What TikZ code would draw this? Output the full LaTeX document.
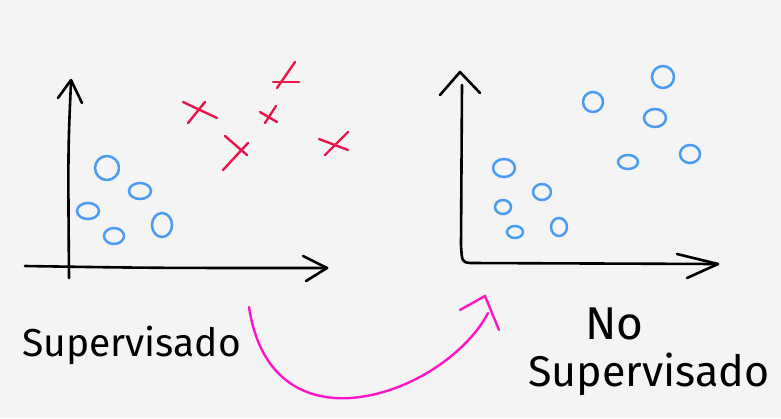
\documentclass[tikz,border=0pt]{standalone}
\usepackage{fontspec}
\setmainfont{Fira Sans}
\usetikzlibrary{positioning,calc}
\definecolor{paperbg}{HTML}{F4F4F4}
\definecolor{dotblue}{HTML}{4A9BF2}
\definecolor{crossred}{HTML}{E8174B}
\definecolor{arrowpink}{HTML}{FF14C8}

\begin{document}
\begin{tikzpicture}[x=1pt, y=-1pt,
    axisline/.style={line width=2.6pt, black, line cap=round, line join=round},
    dotline/.style={line width=2.5pt, dotblue},
    crossline/.style={line width=2.4pt, crossred, line cap=round},
    handlabel/.style={inner sep=0pt, anchor=base west}]
    \fill[paperbg] (0,0) rectangle (781,418);
    \useasboundingbox (0,0) rectangle (781,418);

    % left plot: labelled data
    \draw[axisline] (71,82) .. controls (68,150) .. (69,278);
    \draw[axisline] (58,98) -- (71,80) -- (82,103);
    \draw[axisline] (25,266) .. controls (150,268) .. (327,268);
    \draw[axisline] (303,256) -- (327,268) -- (306,281);
    \foreach \x/\y/\a/\b in {107/168/12/12, 140/191/11/8, 88/211/11/8, 114/236/10/8, 162/225/10/12}
        \draw[dotline] (\x,\y) ellipse ({\a pt} and {\b pt});
    \foreach \ax/\ay/\bx/\by/\cx/\cy/\dx/\dy in {
        183/102/217/118/205/102/188/123,
        273/82/299/82/295/62/277/88,
        260/112/277/122/276/106/265/123,
        225/136/247/155/248/143/223/170,
        319/139/348/150/348/132/325/155} {
        \draw[crossline] (\ax,\ay) -- (\bx,\by);
        \draw[crossline] (\cx,\cy) -- (\dx,\dy);
    }

    % right plot: no labels
    \draw[axisline] (462,85) -- (461,245) .. controls (462,262) .. (470,263) -- (717,264);
    \draw[axisline] (440,95) -- (460,72) -- (480,93);
    \draw[axisline] (677,254) -- (718,264) -- (687,278);
    \foreach \x/\y/\a/\b in {663/77/11/11, 593/102/10/10, 655/118/11/9, 690/154/10/9, 628/162/10/7,
        504/168/11/9, 542/192/9/8, 503/207/8/7, 515/232/8/6, 559/227/8/9}
        \draw[dotline] (\x,\y) ellipse ({\a pt} and {\b pt});

    % labels
    \node[handlabel, font=\fontsize{39}{39}\selectfont] (suplabel) at (22,356) {Supervisado};
    \node[handlabel, font=\fontsize{46}{46}\selectfont] (nolabel) at (585,339) {No};
    \node[handlabel, font=\fontsize{43}{43}\selectfont] (nsuplabel) at (528,386) {Supervisado};

    % arrow between the two
    \coordinate (arrstart) at (249,307);
    \coordinate (arrend) at (488,313);
    \draw[arrowpink, line width=2.4pt, line cap=round] (arrstart) .. controls (262,392) and (320,400) .. (350,398)
        .. controls (410,394) and (468,352) .. (arrend);
    \draw[arrowpink, line width=2.4pt, line cap=round, line join=round] (460,310) -- (485,296) -- (499,330);
\end{tikzpicture}
\end{document}
